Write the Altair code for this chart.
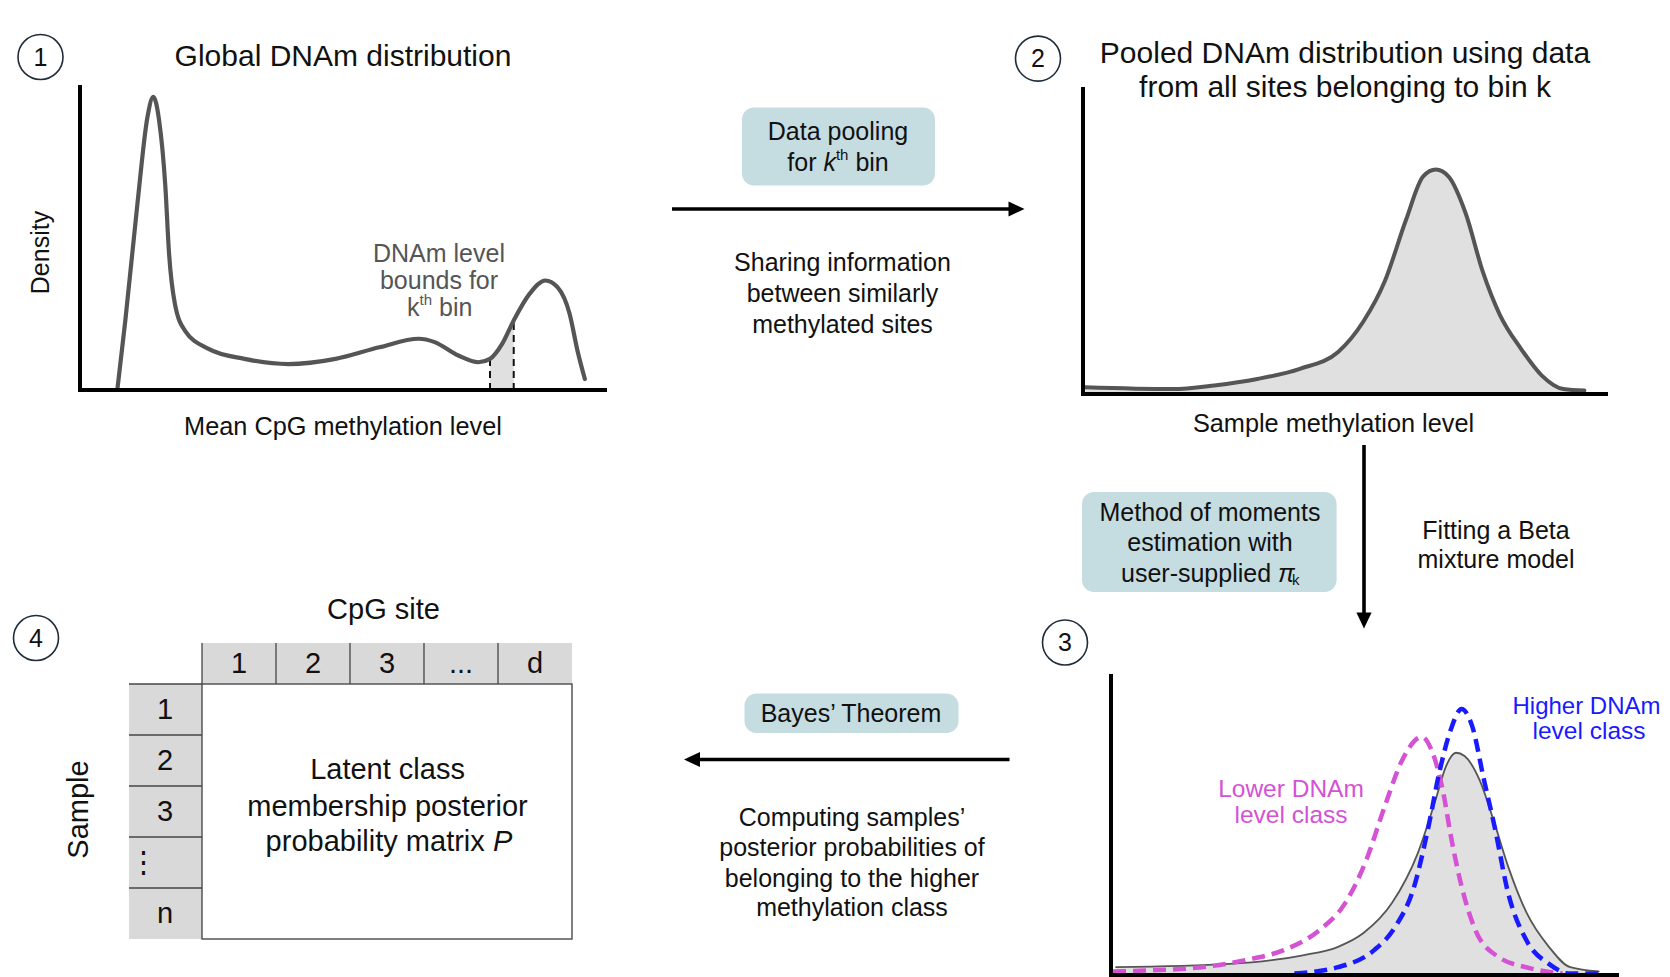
import altair as alt
import pandas as pd

FONT = "Liberation Sans"
INK = "#111111"
GREY_CURVE = "#555555"
FILL = "#e0e0e0"
BOX = "#c5dce1"
PINK = "#d452d3"
BLUE = "#1a1aff"

# ---------------- values ----------------
# Panel 1: global DNAm distribution (mean CpG methylation level 0-1, relative density 0-1)
p1_level = [0.071, 0.086, 0.109, 0.128, 0.139, 0.150, 0.162, 0.169, 0.180, 0.199, 0.244, 0.312,
            0.395, 0.485, 0.568, 0.643, 0.673, 0.718, 0.756, 0.778, 0.801, 0.823, 0.853, 0.883,
            0.906, 0.929, 0.944, 0.958]
p1_density = [0.003, 0.228, 0.611, 0.895, 0.961, 0.885, 0.666, 0.447, 0.283, 0.195, 0.135, 0.102,
              0.085, 0.102, 0.140, 0.168, 0.157, 0.113, 0.091, 0.102, 0.151, 0.228, 0.315, 0.359,
              0.337, 0.250, 0.129, 0.036]
# k-th bin bounds
p1_bin_level = [0.778, 0.801, 0.823]
p1_bin_density = [0.102, 0.151, 0.228]

# Panel 2: pooled distribution for bin k
p2_level = [0.004, 0.170, 0.250, 0.332, 0.413, 0.486, 0.534, 0.575, 0.615, 0.648, 0.672, 0.696,
            0.729, 0.761, 0.794, 0.834, 0.874, 0.915, 0.955]
p2_density = [0.022, 0.016, 0.028, 0.049, 0.082, 0.137, 0.236, 0.368, 0.566, 0.709, 0.731, 0.709,
              0.588, 0.401, 0.258, 0.148, 0.060, 0.016, 0.011]

# Panel 3: Beta mixture fit
p3_mix_level = [0.010, 0.233, 0.375, 0.447, 0.497, 0.553, 0.604, 0.639, 0.660, 0.679, 0.696, 0.725,
                0.753, 0.782, 0.818, 0.862, 0.904, 0.960]
p3_mix_density = [0.021, 0.032, 0.060, 0.089, 0.135, 0.235, 0.402, 0.580, 0.694, 0.737, 0.726, 0.648,
                  0.512, 0.356, 0.203, 0.089, 0.021, 0.007]
p3_low_level = [0.004, 0.161, 0.268, 0.340, 0.411, 0.461, 0.503, 0.539, 0.574, 0.612, 0.633, 0.654,
                0.669, 0.690, 0.717, 0.761, 0.824, 0.889]
p3_low_density = [0.007, 0.018, 0.046, 0.078, 0.146, 0.235, 0.381, 0.559, 0.715, 0.790, 0.737, 0.605,
                  0.459, 0.292, 0.146, 0.057, 0.018, 0.000]
p3_high_level = [0.361, 0.447, 0.518, 0.560, 0.597, 0.625, 0.646, 0.669, 0.690, 0.711, 0.734, 0.755,
                 0.782, 0.818, 0.862, 0.904, 0.960]
p3_high_density = [0.000, 0.021, 0.078, 0.157, 0.292, 0.491, 0.669, 0.815, 0.883, 0.826, 0.648, 0.491,
                   0.267, 0.110, 0.032, 0.000, 0.000]

# Panel 4: matrix labels
col_labels = ["1", "2", "3", "...", "d"]
row_labels = ["1", "2", "3", "\u22ee", "n"]

# ---------------- layout (canvas pixels) ----------------
W, H = 1654, 969
xs = alt.Scale(domain=[8, 1662], nice=False, zero=False)
ys = alt.Scale(domain=[8, 977], nice=False, zero=False, reverse=True)

FR1 = (80, 607, 390, 85)
FR2 = (1083, 1608, 394, 87)
FR3 = (1111, 1619, 973.5, 674)


def to_canvas(level, dens, fr):
    x0, x1, yb, yt = fr
    return pd.DataFrame({
        "x": [x0 + v * (x1 - x0) for v in level],
        "y": [yb - d * (yb - yt) for d in dens],
        "base": [yb] * len(level),
        "i": list(range(len(level))),
    })


def enc(**kw):
    out = {}
    if "x" in kw:
        out["x"] = alt.X(f"{kw['x']}:Q", scale=xs, axis=None)
    if "y" in kw:
        out["y"] = alt.Y(f"{kw['y']}:Q", scale=ys, axis=None, stack=None)
    if "x2" in kw:
        out["x2"] = alt.X2(f"{kw['x2']}:Q")
    if "y2" in kw:
        out["y2"] = alt.Y2(f"{kw['y2']}:Q")
    return out


def line(df, color, width, dash=None, cap="round"):
    kw = dict(color=color, strokeWidth=width, interpolate="monotone", strokeCap=cap, strokeJoin="round")
    if dash:
        kw["strokeDash"] = dash
    return alt.Chart(df).mark_line(**kw).encode(order="i:Q", **enc(x="x", y="y"))


def area(df, color):
    return alt.Chart(df).mark_area(fill=color, interpolate="monotone", opacity=1, fillOpacity=1,
                                   orient="vertical").encode(**enc(x="x", y="y", y2="base"))


d1 = to_canvas(p1_level, p1_density, FR1)
d1bin = to_canvas(p1_bin_level, p1_bin_density, FR1)
d2 = to_canvas(p2_level, p2_density, FR2)
d3m = to_canvas(p3_mix_level, p3_mix_density, FR3)
d3l = to_canvas(p3_low_level, p3_low_density, FR3)
d3h = to_canvas(p3_high_level, p3_high_density, FR3)

layers = []

# boxes
boxes = pd.DataFrame({"x": [742, 1082, 744.5], "x2": [935, 1336.6, 958.5],
                      "y": [107.6, 492, 693.5], "y2": [185.4, 592, 733]})
layers.append(alt.Chart(boxes).mark_rect(color=BOX, cornerRadius=12).encode(**enc(x="x", x2="x2", y="y", y2="y2")))

# matrix
col_edges = [202, 276, 350, 424, 498, 572]
row_edges = [684, 735, 786, 837, 888, 939]
cells = pd.DataFrame(
    [{"x": col_edges[i], "x2": col_edges[i + 1], "y": 643, "y2": 684} for i in range(5)] +
    [{"x": 129, "x2": 202, "y": row_edges[i], "y2": row_edges[i + 1]} for i in range(5)])
layers.append(alt.Chart(cells).mark_rect(color="#d9d9d9").encode(**enc(x="x", x2="x2", y="y", y2="y2")))
mainbox = pd.DataFrame({"x": [202], "x2": [572], "y": [684], "y2": [939]})
layers.append(alt.Chart(mainbox).mark_rect(fill="white", stroke="#555555", strokeWidth=1.5).encode(
    **enc(x="x", x2="x2", y="y", y2="y2")))
seps = pd.DataFrame(
    [{"x": c, "x2": c, "y": 643, "y2": 684} for c in col_edges[:-1]] +
    [{"x": 129, "x2": 202, "y": r, "y2": r} for r in row_edges[:-1]])
layers.append(alt.Chart(seps).mark_rule(color="#444444", strokeWidth=1.3).encode(**enc(x="x", x2="x2", y="y", y2="y2")))

# distribution fills
layers.append(area(d1bin, FILL))
layers.append(area(d2, FILL))
layers.append(area(d3m, FILL))

# bin bounds
bounds = pd.DataFrame({"x": d1bin["x"].iloc[[0, 2]].tolist(), "y": d1bin["base"].iloc[[0, 2]].tolist(),
                       "y2": d1bin["y"].iloc[[0, 2]].tolist()})
layers.append(alt.Chart(bounds).mark_rule(color="#111111", strokeWidth=2, strokeDash=[7, 5]).encode(
    **enc(x="x", y="y", y2="y2")))

# curves
layers.append(line(d1, GREY_CURVE, 4.2))
layers.append(line(d2, GREY_CURVE, 4.0))
layers.append(line(d3m, GREY_CURVE, 1.8))
layers.append(line(d3l, PINK, 4.5, dash=[13, 7], cap="butt"))
layers.append(line(d3h, BLUE, 4.5, dash=[13, 7], cap="butt"))

# axes
axes = pd.DataFrame({
    "x": [80, 78, 1083, 1081, 1111, 1109],
    "x2": [80, 607, 1083, 1608, 1111, 1619],
    "y": [85, 390, 87, 394, 674, 975],
    "y2": [392, 390, 396, 394, 977, 975]})
layers.append(alt.Chart(axes).mark_rule(color="black", strokeWidth=4).encode(**enc(x="x", x2="x2", y="y", y2="y2")))

# arrows
shafts = pd.DataFrame({"x": [672, 1364, 1009.5], "x2": [1012, 1364, 697], "y": [209, 445, 759.5], "y2": [209, 616, 759.5]})
layers.append(alt.Chart(shafts).mark_rule(color="black", strokeWidth=3.6).encode(**enc(x="x", x2="x2", y="y", y2="y2")))
heads = [("M-1,-0.95L1,0L-1,0.95Z", 1016.5, 209), ("M-0.95,-1L0.95,-1L0,1Z", 1364, 620.5),
         ("M1,-0.95L-1,0L1,0.95Z", 692, 759.5)]
for shp, hx, hy in heads:
    layers.append(alt.Chart(pd.DataFrame({"x": [hx], "y": [hy]})).mark_point(
        shape=shp, size=256, filled=True, color="black", opacity=1, strokeWidth=0).encode(**enc(x="x", y="y")))

# numbered badges
badges = pd.DataFrame({"x": [40.5, 1038, 1065, 36], "y": [57, 58.6, 642.5, 638], "t": ["1", "2", "3", "4"]})
layers.append(alt.Chart(badges).mark_point(shape="circle", size=2025, filled=False, color="#1f2d3a",
                                           strokeWidth=1.6, opacity=1).encode(**enc(x="x", y="y")))

# ---------------- text ----------------
centered = [
    ("1", 40.5, 57.5, 25, INK), ("2", 1038, 59, 25, INK), ("3", 1065, 643, 25, INK), ("4", 36, 638.5, 25, INK),
    ("Global DNAm distribution", 343, 56.5, 30, INK),
    ("Pooled DNAm distribution using data", 1345, 54, 30, INK),
    ("from all sites belonging to bin k", 1345, 88.4, 30, INK),
    ("Mean CpG methylation level", 343, 427, 25.3, INK),
    ("Sample methylation level", 1333.5, 424, 25.3, INK),
    ("Data pooling", 838, 132, 25, INK),
    ("Sharing information", 842.5, 263, 25, INK),
    ("between similarly", 842.5, 294, 25, INK),
    ("methylated sites", 842.5, 325, 25, INK),
    ("Method of moments", 1210, 512.5, 25, INK),
    ("estimation with", 1210, 543.4, 25, INK),
    ("Fitting a Beta", 1496, 530.5, 25, INK),
    ("mixture model", 1496, 560, 25, INK),
    ("Bayes\u2019 Theorem", 851, 713.5, 25, INK),
    ("Computing samples\u2019", 852, 818, 25, INK),
    ("posterior probabilities of", 852, 848, 25, INK),
    ("belonging to the higher", 852, 879, 25, INK),
    ("methylation class", 852, 907.5, 25, INK),
    ("CpG site", 383.5, 610, 29, INK),
    ("Latent class", 387.5, 770, 29, INK),
    ("membership posterior", 387.5, 806.5, 29, INK),
    ("DNAm level", 439, 254, 25, GREY_CURVE),
    ("bounds for", 439, 280.5, 25, GREY_CURVE),
    ("Higher DNAm", 1586.5, 707, 24, BLUE),
    ("level class", 1589, 732, 24.5, BLUE),
    ("Lower DNAm", 1291, 790, 24.5, PINK),
    ("level class", 1291, 815.5, 24.5, PINK),
]
for i, lab in enumerate(col_labels):
    centered.append((lab, (col_edges[i] + col_edges[i + 1]) / 2, 663.5, 29, INK))
for i, lab in enumerate(row_labels):
    centered.append((lab, 143 if lab == "\u22ee" else 165, (row_edges[i] + row_edges[i + 1]) / 2, 29, INK))

left_plain = [
    ("for", 787.3, 163, 25, INK), ("th", 835.9, 155, 15, INK), ("bin", 855.4, 163, 25, INK),
    ("k", 407, 307.5, 25, GREY_CURVE), ("th", 419.5, 299.5, 15, GREY_CURVE), ("bin", 439, 307.5, 25, GREY_CURVE),
    ("user-supplied", 1121, 574, 25, INK), ("k", 1292, 580, 15, INK),
    ("probability matrix", 265.6, 841.5, 29, INK),
]
left_italic = [
    ("k", 823.4, 163, 25, INK),
    ("\u03c0", 1278, 574, 25, INK), ("P", 493, 841.5, 29, INK),
]
rotated = [("Density", 40.5, 252.5, 25, INK), ("Sample", 79, 809.5, 29, INK)]


def text_layer(rows, align="center", style="normal", angle=0):
    df = pd.DataFrame(rows, columns=["t", "x", "y", "s", "c"])
    return alt.Chart(df).mark_text(font=FONT, align=align, baseline="middle", fontStyle=style,
                                   angle=angle).encode(
        text="t:N", size=alt.Size("s:Q", scale=None), color=alt.Color("c:N", scale=None),
        **enc(x="x", y="y"))


layers.append(text_layer(centered))
layers.append(text_layer(left_plain, align="left"))
layers.append(text_layer(left_italic, align="left", style="italic"))
layers.append(text_layer(rotated, angle=270))

chart = alt.layer(*layers).properties(
    width=W, height=H, padding=0, autosize=alt.AutoSizeParams(type="none"), background="white"
).configure_view(stroke=None)

chart.save("out.html", embed_options={"renderer": "svg", "actions": False})
